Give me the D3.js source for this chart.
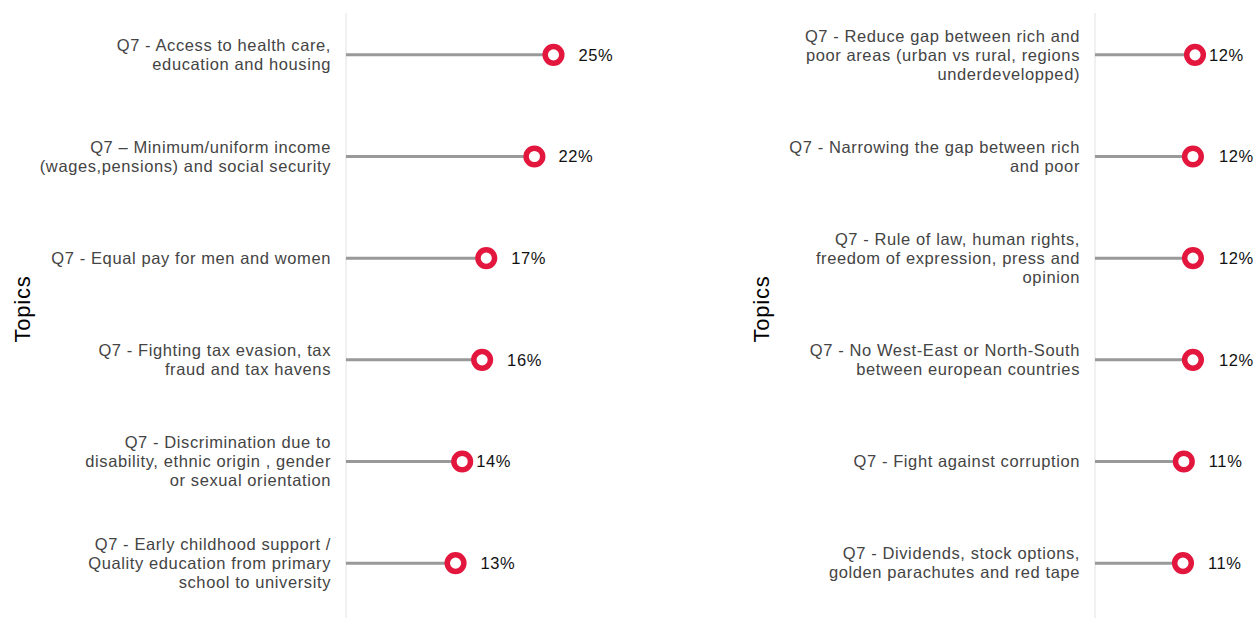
<!DOCTYPE html>
<html>
<head>
<meta charset="utf-8">
<script src="https://cdn.jsdelivr.net/npm/d3@7"></script>
<style>
  body { margin: 0; background: #fff; }
  text { font-family: "Liberation Sans", Arial, Helvetica, sans-serif; }
  .topic { fill: #444; font-size: 16.5px; letter-spacing: 0.6px; }
  .value { fill: #111; font-size: 16.5px; letter-spacing: 0.6px; }
  .title { fill: #000; font-size: 22px; letter-spacing: 0.8px; }
</style>
</head>
<body>
<svg width="1254" height="618"></svg>
<script>
//left panel
var leftTopics = [
    "Q7 - Access to health care,\neducation and housing",
    "Q7 – Minimum/uniform income\n(wages,pensions) and social security",
    "Q7 - Equal pay for men and women",
    "Q7 - Fighting tax evasion, tax\nfraud and tax havens",
    "Q7 - Discrimination due to\ndisability, ethnic origin , gender\nor sexual orientation",
    "Q7 - Early childhood support /\nQuality education from primary\nschool to university"
];
var leftValues = [25.0, 22.7, 16.9, 16.4, 14.0, 13.2];
var leftLabels = ["25%", "22%", "17%", "16%", "14%", "13%"];

//right panel
var rightTopics = [
    "Q7 - Reduce gap between rich and\npoor areas (urban vs rural, regions\nunderdevelopped)",
    "Q7 - Narrowing the gap between rich\nand poor",
    "Q7 - Rule of law, human rights,\nfreedom of expression, press and\nopinion",
    "Q7 - No West-East or North-South\nbetween european countries",
    "Q7 - Fight against corruption",
    "Q7 - Dividends, stock options,\ngolden parachutes and red tape"
];
var rightValues = [12.05, 11.8, 11.8, 11.8, 10.7, 10.6];
var rightLabels = ["12%", "12%", "12%", "12%", "11%", "11%"];

var svg = d3.select("svg");

var red = "#e3173e",
    lineGrey = "#999",
    axisGrey = "#e2e2e2";

//same value scale for both panels
var scaleX = d3.scaleLinear()
    .domain([0, 30])
    .range([0, 249]);

function drawPanel(axisX, topics, values, labels, labelOffsets, titleX) {
    var scaleY = d3.scaleBand()
        .domain(topics)
        .range([4, 614]);

    var g = svg.append("g")
        .attr("transform", "translate(" + [axisX, 0] + ")");

    //vertical axis line
    g.append("line")
        .attr("x1", 0).attr("x2", 0)
        .attr("y1", 13).attr("y2", 618)
        .attr("stroke", axisGrey)
        .attr("stroke-width", 1);

    var rows = g.selectAll("g.row")
        .data(topics)
        .enter().append("g")
        .attr("class", "row")
        .attr("transform", d => "translate(0," + (scaleY(d) + scaleY.bandwidth() / 2) + ")");

    //topic labels, multi line, centred on row
    rows.append("text")
        .attr("class", "topic")
        .attr("text-anchor", "end")
        .each(function (d) {
            var lines = d.split("\n");
            var t = d3.select(this);
            lines.forEach((line, i) => {
                t.append("tspan")
                    .attr("x", -15)
                    .attr("y", (i - (lines.length - 1) / 2) * 19)
                    .attr("dy", "0.35em")
                    .text(line);
            });
        });

    rows.append("line")
        .attr("x1", 0)
        .attr("x2", (d, i) => scaleX(values[i]))
        .attr("stroke", lineGrey)
        .attr("stroke-width", 3);

    rows.append("circle")
        .attr("cx", (d, i) => scaleX(values[i]))
        .attr("r", 8.3)
        .attr("fill", "#fff")
        .attr("stroke", red)
        .attr("stroke-width", 5.5);

    rows.append("text")
        .attr("class", "value")
        .attr("x", (d, i) => scaleX(values[i]) + labelOffsets[i])
        .attr("dy", "0.35em")
        .text((d, i) => labels[i]);

    svg.append("text")
        .attr("class", "title")
        .attr("text-anchor", "middle")
        .attr("transform", "translate(" + [titleX, 309] + ") rotate(-90)")
        .attr("dy", "0.35em")
        .text("Topics");
}

drawPanel(346, leftTopics, leftValues, leftLabels, [25, 24, 25, 25, 14, 25], 22);
drawPanel(1095, rightTopics, rightValues, rightLabels, [14, 26, 26, 26, 25, 25], 761);
</script>
</body>
</html>
